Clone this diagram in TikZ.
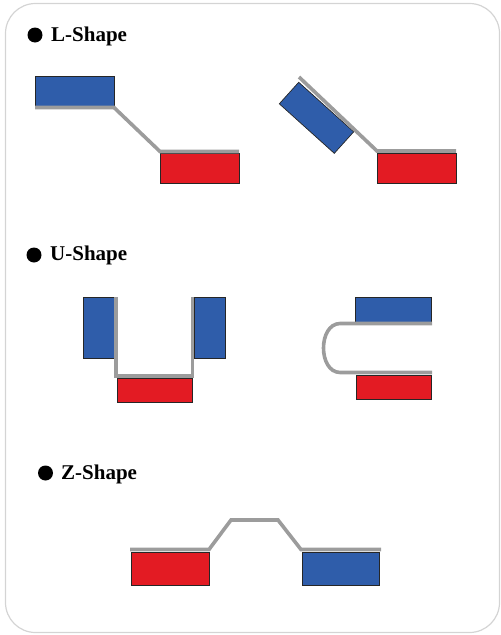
\documentclass[tikz,border=0pt]{standalone}
\usepackage{fontspec}
\setmainfont{Liberation Serif}
\definecolor{pblue}{HTML}{2F5DAA}
\definecolor{pred}{HTML}{E31B23}
\definecolor{pgray}{HTML}{9C9C9C}
\definecolor{pframe}{HTML}{D4D4D4}
\begin{document}
\begin{tikzpicture}[x=1pt,y=-1pt,
  bluebox/.style={draw=black!85,line width=0.7pt,fill=pblue,inner sep=0pt,anchor=north west},
  redbox/.style={draw=black!85,line width=0.7pt,fill=pred,inner sep=0pt,anchor=north west},
  flex/.style={draw=pgray,line width=3.6pt,line join=miter},
  bullet/.style={circle,fill=black,inner sep=0pt,minimum size=15pt},
  title/.style={anchor=base west,inner sep=0pt,font=\fontsize{21}{24}\selectfont\bfseries}]
\useasboundingbox (0,0) rectangle (501,635);
\draw[pframe,line width=1.2pt,rounded corners=30pt] (5.5,3.5) rectangle (499.5,632.5);

% L-Shape
\node[bullet] (b1) at (35,35) {};
\node[title] (t1) at (51,41) {L-Shape};
\node[bluebox,minimum width=79pt,minimum height=30pt] (l1b) at (35,76) {};
\node[redbox,minimum width=79pt,minimum height=30pt] (l1r) at (160,153) {};
\coordinate (l1a) at (35,107.5);
\coordinate (l1c) at (114,107.5);
\coordinate (l1d) at (160,151.5);
\coordinate (l1e) at (239,151.5);
\draw[flex] (l1a) -- (l1c) -- (l1d) -- (l1e);

\node[bluebox,anchor=center,minimum width=74pt,minimum height=29pt,rotate=-42] (l2b) at (316.5,117.8) {};
\node[redbox,minimum width=79pt,minimum height=30pt] (l2r) at (377,153) {};
\coordinate (l2a) at (299,77);
\coordinate (l2c) at (377,151);
\coordinate (l2d) at (456,151);
\draw[flex] (l2a) -- (l2c) -- (l2d);

% U-Shape
\node[bullet] (b2) at (34,255) {};
\node[title] (t2) at (50,260) {U-Shape};
\node[bluebox,minimum width=31pt,minimum height=61pt] (u1l) at (83,297) {};
\node[bluebox,minimum width=31pt,minimum height=61pt] (u1rr) at (194,297) {};
\node[redbox,minimum width=75pt,minimum height=24pt] (u1r) at (117,378) {};
\coordinate (u1a) at (116,297);
\coordinate (u1c) at (116,376);
\coordinate (u1d) at (192.5,376);
\coordinate (u1e) at (192.5,297);
\draw[flex] (u1a) -- (u1c) -- (u1d) -- (u1e);

\node[bluebox,minimum width=76pt,minimum height=25pt] (u2b) at (355,297) {};
\node[redbox,minimum width=75pt,minimum height=24pt] (u2r) at (356,375) {};
\coordinate (u2a) at (432,323.5);
\coordinate (u2c) at (340,323.5);
\coordinate (u2f) at (340,372.5);
\coordinate (u2g) at (432,372.5);
\draw[flex] (u2a) -- (u2c) .. controls (318,324) and (318,372) .. (u2f) -- (u2g);

% Z-Shape
\node[bullet] (b3) at (45.5,473) {};
\node[title] (t3) at (61,479) {Z-Shape};
\node[redbox,minimum width=78pt,minimum height=33pt] (zr) at (131,552) {};
\node[bluebox,minimum width=77pt,minimum height=33pt] (zb) at (302,552) {};
\coordinate (za) at (130,549.5);
\coordinate (zc) at (209,549.5);
\coordinate (zd) at (231,520);
\coordinate (ze) at (278,520);
\coordinate (zf) at (301,549.5);
\coordinate (zg) at (381,549.5);
\draw[flex] (za) -- (zc) -- (zd) -- (ze) -- (zf) -- (zg);
\end{tikzpicture}
\end{document}
